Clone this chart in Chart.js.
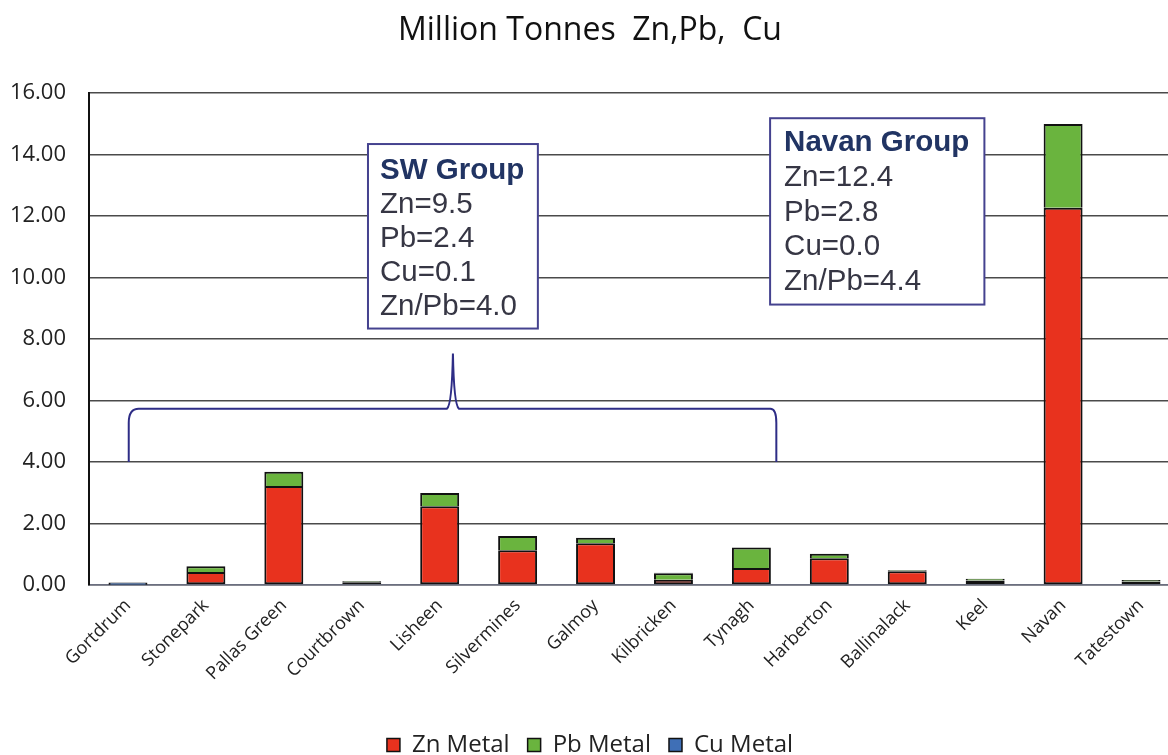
<!DOCTYPE html>
<html>
<head>
<meta charset="utf-8">
<script src="https://cdn.jsdelivr.net/npm/chart.js@4.4.1/dist/chart.umd.min.js"></script>
<style>
  html, body { margin: 0; padding: 0; background: #ffffff; overflow: hidden; }
  #wrap { position: relative; width: 1180px; height: 767px; }
</style>
</head>
<body>
<div id="wrap"><canvas id="c"></canvas></div>
<script>
const categories = ["Gortdrum", "Stonepark", "Pallas Green", "Courtbrown", "Lisheen", "Silvermines", "Galmoy", "Kilbricken", "Tynagh", "Harberton", "Ballinalack", "Keel", "Navan", "Tatestown"];
const znMetal = [0.01, 0.42, 3.22, 0.09, 2.56, 1.13, 1.36, 0.17, 0.55, 0.87, 0.45, 0.15, 12.27, 0.11];
const pbMetal = [0.00, 0.19, 0.46, 0.03, 0.43, 0.46, 0.18, 0.21, 0.67, 0.15, 0.03, 0.05, 2.72, 0.05];
const cuMetal = [0.07, 0.00, 0.00, 0.01, 0.00, 0.00, 0.00, 0.02, 0.00, 0.00, 0.00, 0.00, 0.00, 0.00];
const yTicks = [0, 2, 4, 6, 8, 10, 12, 14, 16];
const swGroupText = ["SW Group", "Zn=9.5", "Pb=2.4", "Cu=0.1", "Zn/Pb=4.0"];
const navanGroupText = ["Navan Group", "Zn=12.4", "Pb=2.8", "Cu=0.0", "Zn/Pb=4.4"];

const annotationPlugin = {
  id: 'groups',
  afterDatasetsDraw(chart) {
    const ctx = chart.ctx;
    const xs = chart.scales.x, ys = chart.scales.y;
    const X = v => xs.getPixelForValue(v);
    const Y = v => ys.getPixelForValue(v);
    const lineCol = '#2e2d86';

    // Brace spanning the SW group (category/value coordinates)
    const bl = 0.01, br = 8.32, bp = 4.17, yb = 4.0, yh = 5.73, yp = 7.53;
    ctx.save();
    ctx.strokeStyle = lineCol;
    ctx.lineWidth = 2;
    ctx.beginPath();
    ctx.moveTo(X(bl), Y(yb));
    ctx.lineTo(X(bl), Y(yh) + 14);
    ctx.quadraticCurveTo(X(bl), Y(yh), X(bl) + 10, Y(yh));
    ctx.lineTo(X(bp) - 6, Y(yh));
    ctx.quadraticCurveTo(X(bp) - 1, Y(yh) - 4, X(bp), Y(yp));
    ctx.quadraticCurveTo(X(bp) + 1, Y(yh) - 4, X(bp) + 6, Y(yh));
    ctx.lineTo(X(br) - 6, Y(yh));
    ctx.quadraticCurveTo(X(br), Y(yh), X(br), Y(yh) + 14);
    ctx.lineTo(X(br), Y(yb));
    ctx.stroke();
    ctx.restore();

    function box(lines, x0, x1, y0, y1, textInset, headOff, step) {
      const L = X(x0), R = X(x1), T = Y(y0), B = Y(y1);
      ctx.save();
      ctx.fillStyle = '#ffffff';
      ctx.fillRect(L, T, R - L, B - T);
      ctx.strokeStyle = '#45428f';
      ctx.lineWidth = 2;
      ctx.strokeRect(L, T, R - L, B - T);
      ctx.textBaseline = 'middle';
      ctx.textAlign = 'left';
      lines.forEach((t, i) => {
        if (i === 0) {
          ctx.font = 'bold 29.5px "Liberation Sans", Arial, sans-serif';
          ctx.fillStyle = '#213463';
        } else {
          ctx.font = '29.5px "Liberation Sans", Arial, sans-serif';
          ctx.fillStyle = '#363644';
        }
        ctx.fillText(t, L + textInset, T + headOff + i * step);
      });
      ctx.restore();
    }
    box(swGroupText, 3.08, 5.26, 14.34, 8.34, 12, 27, 34);
    box(navanGroupText, 8.24, 10.99, 15.18, 9.12, 14, 25, 34.6);
  }
};

const segBorder = c => (c.raw > 0 ? 2 : 0);

const ctxEl = document.getElementById('c');
new Chart(ctxEl, {
  type: 'bar',
  data: {
    labels: categories,
    datasets: [
      { label: 'Zn Metal', data: znMetal, backgroundColor: '#e8321e', borderColor: '#111111', borderWidth: segBorder, borderSkipped: false },
      { label: 'Pb Metal', data: pbMetal, backgroundColor: '#6ab43e', borderColor: '#111111', borderWidth: segBorder, borderSkipped: 'start' },
      { label: 'Cu Metal', data: cuMetal, backgroundColor: '#3f6fb6', borderColor: '#111111', borderWidth: segBorder, borderSkipped: 'start' }
    ]
  },
  options: {
    responsive: true,
    maintainAspectRatio: false,
    animation: false,
    layout: { padding: { left: 0, right: 0, top: 0, bottom: 0 } },
    datasets: { bar: { barPercentage: 0.5, categoryPercentage: 1.0 } },
    plugins: {
      title: {
        display: true,
        text: 'Million Tonnes  Zn,Pb,  Cu',
        color: '#111111',
        font: { family: '"Open Sans", sans-serif', size: 32, weight: 'normal' },
        padding: { top: 12, bottom: 42.6 }
      },
      legend: {
        position: 'bottom',
        labels: {
          color: '#222222',
          font: { family: '"Open Sans", sans-serif', size: 24 },
          boxWidth: 13, boxHeight: 13,
          padding: 18,
          generateLabels(chart) {
            const items = Chart.defaults.plugins.legend.labels.generateLabels(chart);
            items.forEach(it => { it.lineWidth = 1.5; it.strokeStyle = '#111111'; });
            return items;
          }
        }
      },
      tooltip: { enabled: false }
    },
    scales: {
      x: {
        stacked: true,
        grid: { display: false, drawTicks: false },
        border: { display: true, color: '#6b6f80', width: 1.5 },
        afterFit(axis) { axis.height = 130; },
        ticks: {
          color: '#222222',
          font: { family: '"Open Sans", sans-serif', size: 18 },
          maxRotation: 45, minRotation: 45,
          autoSkip: false,
          padding: 10
        }
      },
      y: {
        stacked: true,
        min: 0, max: 16,
        afterBuildTicks(axis) { axis.ticks = yTicks.map(v => ({ value: v })); },
        afterFit(axis) { axis.width = 89; },
        grid: { color: '#4a4a4a', lineWidth: 1.6, drawTicks: false },
        border: { display: true, color: '#111111', width: 2 },
        ticks: {
          color: '#222222',
          font: { family: '"Open Sans", sans-serif', size: 22 },
          padding: 23,
          callback: v => Number(v).toFixed(2)
        }
      }
    }
  },
  plugins: [annotationPlugin]
});
</script>
</body>
</html>
